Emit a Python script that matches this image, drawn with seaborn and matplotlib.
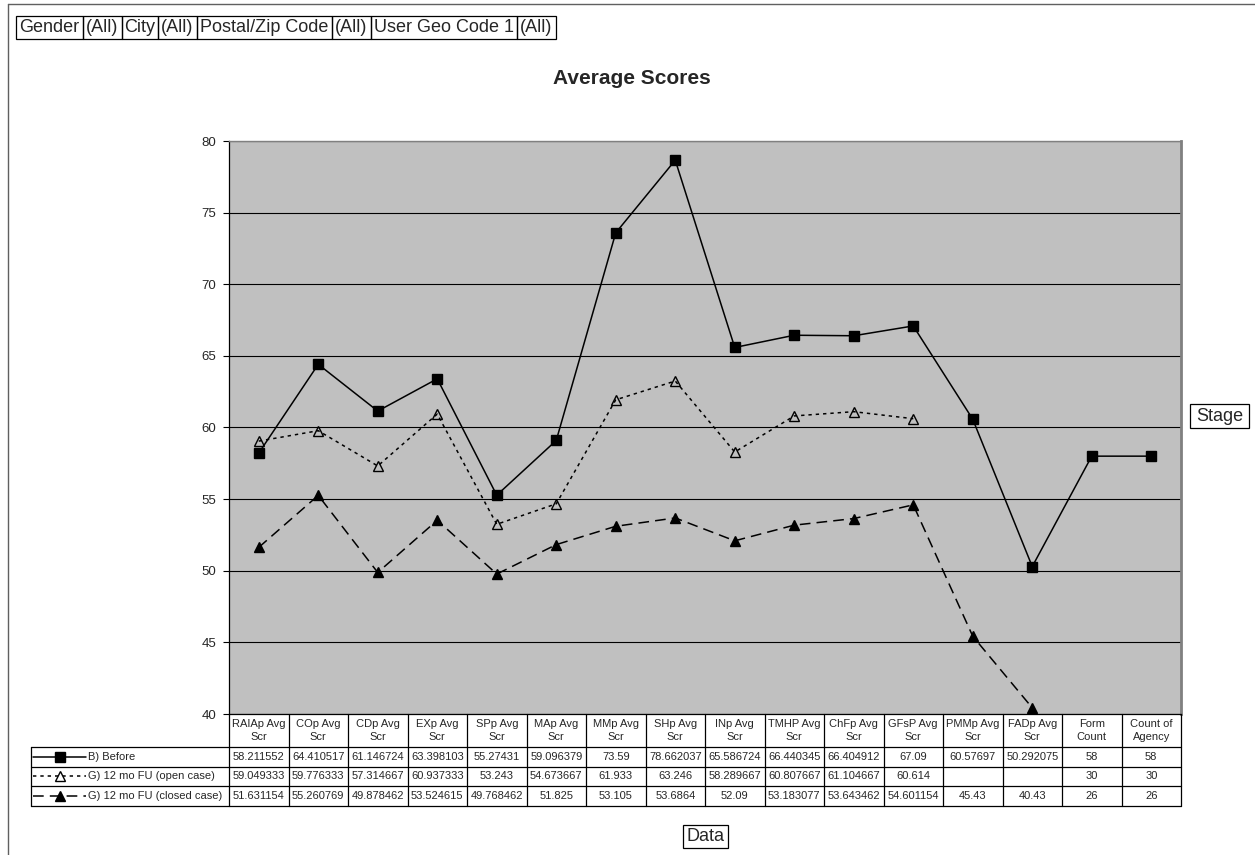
import numpy as np
import pandas as pd
import matplotlib
matplotlib.use("Agg")
import matplotlib.pyplot as plt
import matplotlib.transforms as mtransforms
from matplotlib.lines import Line2D
from matplotlib.patches import Rectangle
import seaborn as sns

# ---- data -------------------------------------------------------------
categories = ["RAIAp Avg\nScr", "COp Avg\nScr", "CDp Avg\nScr", "EXp Avg\nScr",
              "SPp Avg\nScr", "MAp Avg\nScr", "MMp Avg\nScr", "SHp Avg\nScr",
              "INp Avg\nScr", "TMHP Avg\nScr", "ChFp Avg\nScr", "GFsP Avg\nScr",
              "PMMp Avg\nScr", "FADp Avg\nScr", "Form\nCount", "Count of\nAgency"]

before = [58.211552, 64.410517, 61.146724, 63.398103, 55.27431, 59.096379,
          73.59, 78.662037, 65.586724, 66.440345, 66.404912, 67.09,
          60.57697, 50.292075, 58, 58]
open_case = [59.049333, 59.776333, 57.314667, 60.937333, 53.243, 54.673667,
             61.933, 63.246, 58.289667, 60.807667, 61.104667, 60.614,
             np.nan, np.nan, 30, 30]
closed_case = [51.631154, 55.260769, 49.878462, 53.524615, 49.768462, 51.825,
               53.105, 53.6864, 52.09, 53.183077, 53.643462, 54.601154,
               45.43, 40.43, 26, 26]

series_names = ["B) Before", "G) 12 mo FU (open case)", "G) 12 mo FU (closed case)"]
series_values = [before, open_case, closed_case]

filter_fields = ["Gender", "(All)", "City", "(All)", "Postal/Zip Code", "(All)",
                 "User Geo Code 1", "(All)"]

y_ticks = [40, 45, 50, 55, 60, 65, 70, 75, 80]

# ---- styling ----------------------------------------------------------
sns.set_style("white")
plt.rcParams["font.family"] = ["Liberation Sans", "DejaVu Sans"]

styles = [
    dict(linestyle="-", marker="s", markerfacecolor="black", markersize=7.2),
    dict(linestyle=(0, (2.2, 2.6)), marker="^", markerfacecolor="none", markersize=7.0),
    dict(linestyle=(0, (7, 4)), marker="^", markerfacecolor="black", markersize=7.0),
]

W, H = 1255, 855
fig = plt.figure(figsize=(W / 100, H / 100), dpi=100)
fig.patch.set_facecolor("white")

PL, PR, PT, PB = 229, 1181, 141, 714   # plot area in pixels (from top-left)
ax = fig.add_axes([PL / W, 1 - PB / H, (PR - PL) / W, (PB - PT) / H])
ax.set_facecolor("#C0C0C0")

n = len(categories)
xs = np.arange(n)

df = pd.DataFrame({"x": np.tile(xs, 3),
                   "score": np.concatenate(series_values),
                   "series": np.repeat(series_names, n)})

for name, st in zip(series_names, styles):
    sub = df[df["series"] == name].reset_index(drop=True)
    valid = sub["score"].notna().to_numpy()
    # split into contiguous runs so that missing values leave a gap
    run_id = np.cumsum(~valid)
    for rid in np.unique(run_id[valid]):
        seg = sub[valid & (run_id == rid)]
        sns.lineplot(data=seg, x="x", y="score", ax=ax, color="black",
                     linewidth=1.1, markeredgecolor="black", markeredgewidth=1.0,
                     sort=False, estimator=None, legend=False, **st)

ax.set_xlim(-0.5, n - 0.5)
ax.set_ylim(40, 80)
ax.set_yticks(y_ticks)
ax.set_yticklabels([str(t) for t in y_ticks], fontsize=9.5)
ax.set_xticks([])
ax.set_xlabel("")
ax.set_ylabel("")
ax.yaxis.grid(True, color="black", linewidth=0.8)
ax.set_axisbelow(True)
ax.tick_params(axis="y", direction="out", length=4, width=0.8, color="black",
               left=True, pad=5)
for side, sp in ax.spines.items():
    sp.set_visible(True)
ax.spines["left"].set_color("black")
ax.spines["left"].set_linewidth(0.9)
ax.spines["top"].set_color("#808080")
ax.spines["top"].set_linewidth(1.0)
ax.spines["right"].set_color("#808080")
ax.spines["right"].set_linewidth(2.0)
ax.spines["bottom"].set_color("black")
ax.spines["bottom"].set_linewidth(0.9)


def fy(y):
    return 1 - y / H


def fx(x):
    return x / W


# ---- data table under the plot ---------------------------------------
blend = mtransforms.blended_transform_factory(ax.transData, fig.transFigure)
row_edges = [PB, 747, 766.5, 786, 805.5]
grid_kw = dict(color="black", linewidth=0.9)

# column separators through header and value rows
for i in range(n + 1):
    fig.add_artist(Line2D([i - 0.5, i - 0.5], [fy(PB), fy(row_edges[-1])],
                          transform=blend, **grid_kw))
# horizontal rules spanning the legend column and the value columns
for y in row_edges[1:]:
    fig.add_artist(Line2D([fx(31), fx(PR)], [fy(y), fy(y)],
                          transform=fig.transFigure, **grid_kw))
fig.add_artist(Line2D([fx(31), fx(31)], [fy(row_edges[1]), fy(row_edges[-1])],
                      transform=fig.transFigure, **grid_kw))

# header cells
for i, cat in enumerate(categories):
    fig.text(i, fy((row_edges[0] + row_edges[1]) / 2), cat, transform=blend,
             ha="center", va="center", fontsize=8, linespacing=1.35)

# value rows with legend keys
for r, (name, vals, st) in enumerate(zip(series_names, series_values, styles)):
    yc = fy((row_edges[r + 1] + row_edges[r + 2]) / 2)
    fig.add_artist(Line2D([fx(33), fx(86)], [yc, yc], transform=fig.transFigure,
                          color="black", linewidth=1.1, linestyle=st["linestyle"]))
    fig.add_artist(Line2D([fx(60)], [yc], transform=fig.transFigure,
                          color="black", linestyle="none", marker=st["marker"],
                          markersize=st["markersize"] - 0.5,
                          markerfacecolor=st["markerfacecolor"] if st["markerfacecolor"] != "none" else "white",
                          markeredgecolor="black"))
    fig.text(fx(88), yc, name, ha="left", va="center", fontsize=8)
    for i, v in enumerate(vals):
        label = "" if np.isnan(v) else f"{v:.10g}"
        fig.text(i, yc, label, transform=blend, ha="center", va="center", fontsize=8)

# ---- title, field buttons and frame ----------------------------------
fig.text(fx(632), fy(79), "Average Scores", ha="center", va="center",
         fontsize=15, fontweight="bold")

box_edges = [16, 83, 122, 158, 197, 332, 371, 517, 556]
for k, label in enumerate(filter_fields):
    x0, x1 = box_edges[k], box_edges[k + 1]
    fig.add_artist(Rectangle((fx(x0), fy(39)), fx(x1 - x0), 23 / H,
                             transform=fig.transFigure, fill=False,
                             edgecolor="black", linewidth=0.9))
    fig.text(fx((x0 + x1) / 2), fy(27.5), label, ha="center", va="center", fontsize=13)

for label, (x0, x1, y0, y1) in [("Stage", (1190, 1249, 404, 428)),
                                 ("Data", (683, 728, 825, 848))]:
    fig.add_artist(Rectangle((fx(x0), fy(y1)), fx(x1 - x0), (y1 - y0) / H,
                             transform=fig.transFigure, fill=False,
                             edgecolor="black", linewidth=0.9))
    fig.text(fx((x0 + x1) / 2), fy((y0 + y1) / 2), label, ha="center",
             va="center", fontsize=13)

# outer chart frame (top and left edges)
fig.add_artist(Line2D([fx(8), fx(W)], [fy(4), fy(4)], transform=fig.transFigure,
                      color="#606060", linewidth=1.0))
fig.add_artist(Line2D([fx(8), fx(8)], [fy(4), fy(H)], transform=fig.transFigure,
                      color="#606060", linewidth=1.0))

fig.savefig("out.png", dpi=100, facecolor="white")
